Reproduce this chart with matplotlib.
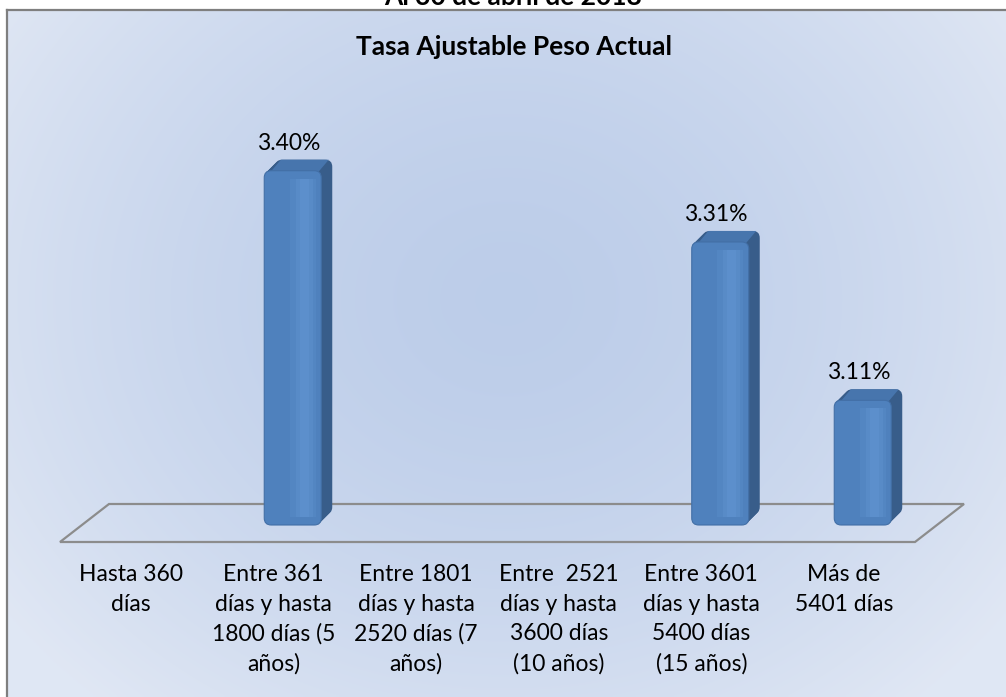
import matplotlib
matplotlib.use('Agg')
import matplotlib.pyplot as plt
import numpy as np
from matplotlib.patches import FancyBboxPatch, Rectangle, Polygon
from matplotlib.transforms import ScaledTranslation, IdentityTransform
from matplotlib.lines import Line2D

plt.rcParams['font.family'] = ['Lato', 'DejaVu Sans']

# --- data ---
categories = [
    "Hasta 360\ndías",
    "Entre 361\ndías y hasta\n1800 días (5\naños)",
    "Entre 1801\ndías y hasta\n2520 días (7\naños)",
    "Entre  2521\ndías y hasta\n3600 días\n(10 años)",
    "Entre 3601\ndías y hasta\n5400 días\n(15 años)",
    "Más de\n5401 días",
]
values = [None, 3.40, None, None, 3.31, 3.11]
value_labels = ["", "3.40%", "", "", "3.31%", "3.11%"]
chart_title = "Tasa Ajustable Peso Actual"
top_title = "Al 30 de abril de 2018"

W, H = 1006, 697
y_min, y_max = 2.9525, 3.5108

fig = plt.figure(figsize=(W / 100, H / 100), dpi=100)
fig.patch.set_facecolor('white')

# chart area background (radial gradient)
bg = fig.add_axes([7 / W, 0, 1 - 7 / W, 1 - 10 / H])
yy, xx = np.mgrid[0:1:200j, 0:1:300j]
r = np.sqrt(((xx - 0.5) / 0.62) ** 2 + ((yy - 0.42) / 0.78) ** 2)
r = np.clip(r, 0, 1)
c0 = np.array([0.74, 0.805, 0.915])
c1 = np.array([0.878, 0.906, 0.957])
img = c0 + (c1 - c0) * (r[..., None] ** 1.6)
bg.imshow(img, aspect='auto', extent=[0, 1, 0, 1], origin='upper',
          interpolation='bilinear')
bg.axis('off')

# chart border (top and left are inside the picture)
fig.add_artist(Line2D([7 / W, 7 / W], [0, 1 - 10 / H], transform=fig.transFigure,
                      color='#7f7f7f', lw=1.6))
fig.add_artist(Line2D([7 / W, 1], [1 - 10 / H, 1 - 10 / H], transform=fig.transFigure,
                      color='#7f7f7f', lw=1.6))

ax = fig.add_axes([60 / W, (H - 542) / H, 855 / W, 442 / H])
ax.set_xlim(-0.5, len(categories) - 0.5)
ax.set_ylim(y_min, y_max)
ax.axis('off')
ax.patch.set_alpha(0)

px_x = 855 / len(categories)
px_y = 442 / (y_max - y_min)


def shift(dx, dy):
    return ax.transData + ScaledTranslation(dx / 100, dy / 100, fig.dpi_scale_trans)


# floor (3D plane)
floor_dx, floor_dy = 49, 38
front = ax.transData.transform([(-0.5, y_min), (len(categories) - 0.5, y_min)])
floor_pts = [front[0], front[1], front[1] + [floor_dx, floor_dy], front[0] + [floor_dx, floor_dy]]
ax.add_patch(Polygon(floor_pts, closed=True, facecolor='none', edgecolor='#8c8c8c',
                     lw=1.6, transform=IdentityTransform(), clip_on=False, zorder=1))

# bars
bar_w = 0.4
off_x, off_y = 19, 17
depth = 11
rs = 7 / px_x
asp = px_x / px_y
side_color = '#385d8a'
top_color = '#4775ad'
front_color = '#4f81bd'

for i, v in enumerate(values):
    if v is None:
        continue
    x0 = i - bar_w / 2
    h = v - y_min
    # extrusion (side / back)
    for k in range(depth, 0, -1):
        ax.add_patch(FancyBboxPatch((x0, y_min), bar_w, h,
                                    boxstyle=f"round,pad=0,rounding_size={rs}",
                                    mutation_aspect=asp, facecolor=side_color,
                                    edgecolor='none', transform=shift(off_x + k, off_y + k),
                                    clip_on=False, zorder=3))
    # top face
    ft = ax.transData.transform([(x0 + rs * 0.8, v), (x0 + bar_w - rs * 0.5, v)])
    ft = ft + [off_x, off_y]
    top_pts = [ft[0] + [0, -2], ft[1] + [0, -2], ft[1] + [depth, depth], ft[0] + [depth, depth]]
    ax.add_patch(Polygon(top_pts, closed=True, facecolor=top_color, edgecolor='none',
                         transform=IdentityTransform(), clip_on=False, zorder=4))
    # front face
    ax.add_patch(FancyBboxPatch((x0, y_min), bar_w, h,
                                boxstyle=f"round,pad=0,rounding_size={rs}",
                                mutation_aspect=asp, facecolor=front_color,
                                edgecolor='#426fa6', lw=0.8,
                                transform=shift(off_x, off_y), clip_on=False, zorder=5))
    # soft highlight on the front face
    for frac, wfrac, a in [(0.45, 0.45, 0.18), (0.55, 0.3, 0.22), (0.62, 0.16, 0.25)]:
        ax.add_patch(Rectangle((x0 + frac * bar_w, y_min + 8 / px_y), wfrac * bar_w,
                               h - 16 / px_y, facecolor='#6a9ddb', edgecolor='none',
                               alpha=a, transform=shift(off_x, off_y), clip_on=False,
                               zorder=6))
    # value label
    ax.text(i, v, value_labels[i], transform=shift(15, off_y + depth + 6),
            ha='center', va='bottom', fontsize=16.5, color='black', zorder=7)

# category labels
for i, cat in enumerate(categories):
    ax.text(i, y_min, cat, transform=shift(0, -22), ha='center', va='top',
            fontsize=16.5, linespacing=1.5, color='black')

fig.text(514 / W, 1 - 55 / H, chart_title, ha='center', va='baseline',
         fontsize=19, fontweight='bold', color='black')
fig.text(513 / W, 1 - 5 / H, top_title, ha='center', va='baseline',
         fontsize=19, fontweight='bold', color='black')

fig.savefig('out.png', dpi=100)
